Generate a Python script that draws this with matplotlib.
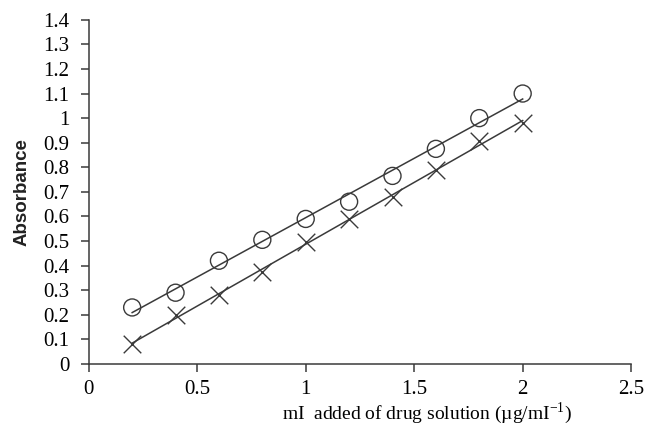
import numpy as np
import matplotlib
matplotlib.use("Agg")
import matplotlib.pyplot as plt

plt.rcParams['font.family'] = ['Liberation Serif', 'DejaVu Serif']
plt.rcParams['mathtext.fontset'] = 'custom'
plt.rcParams['mathtext.rm'] = 'Liberation Serif'

volume = [0.2, 0.4, 0.6, 0.8, 1.0, 1.2, 1.4, 1.6, 1.8, 2.0]
abs_circle = [0.23, 0.29, 0.42, 0.505, 0.59, 0.66, 0.765, 0.875, 1.0, 1.10]
abs_cross = [0.08, 0.20, 0.28, 0.375, 0.495, 0.59, 0.68, 0.79, 0.905, 0.98]

fig = plt.figure(figsize=(6.48, 4.25), dpi=100)
ax = fig.add_axes([0.137, 0.1435, 0.837, 0.81])

x = np.array(volume)
col = '#3a3a3a'
for y, mk in [(abs_circle, 'o'), (abs_cross, 'x')]:
    k, b = np.polyfit(x, y, 1)
    ax.plot(x, k * x + b, color=col, lw=1.1)
    if mk == 'o':
        ax.scatter(x, y, s=150, facecolors='none', edgecolors=col, linewidths=1, zorder=3)
    else:
        ax.scatter(x, y, s=160, marker='x', color=col, linewidths=1, zorder=3)

ax.set_xlim(0, 2.5)
ax.set_ylim(0, 1.4)
ax.set_xticks([0, 0.5, 1, 1.5, 2, 2.5])
ax.set_xticklabels(['0', '0.5', '1', '1.5', '2', '2.5'], fontsize=15)
ax.set_yticks(np.arange(0, 1.41, 0.1))
ax.set_yticklabels(['0', '0.1', '0.2', '0.3', '0.4', '0.5', '0.6', '0.7', '0.8', '0.9', '1',
                    '1.1', '1.2', '1.3', '1.4'], fontsize=15)
ax.spines['top'].set_visible(False)
ax.spines['right'].set_visible(False)
for s in ['left', 'bottom']:
    ax.spines[s].set_color(col)
    ax.spines[s].set_linewidth(1.1)
ax.tick_params(direction='out', length=6, width=1.1, color=col, pad=8)
ax.tick_params(axis='x', pad=5.5)
ax.set_ylabel('Absorbance', fontsize=13.5, family=['Liberation Sans'], fontweight='bold',
              color='#222222', labelpad=9)
ax.set_xlabel('mI  added of drug solution (µg/mI$^{\\mathdefault{-1}}$)', fontsize=14,
              va='bottom')
ax.xaxis.set_label_coords(0.624, -0.18)

fig.savefig('out.png', dpi=100)
